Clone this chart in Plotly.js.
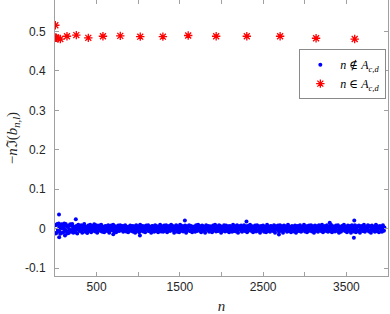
<!DOCTYPE html>
<html><head><meta charset="utf-8">
<script src="https://cdn.plot.ly/plotly-3.0.1.min.js"></script>
<style>html,body{margin:0;padding:0;background:#fff}#chart{width:390px;height:314px}</style>
</head><body><div id="chart"></div>
<script>
// Red stars: n in A_{c,d}
const redN = [4,9,16,36,64,144,256,400,576,784,1024,1296,1600,1936,2304,2704,3136,3600];
const redV = [0.516,0.485,0.484,0.482,0.481,0.488,0.491,0.484,0.488,0.489,0.487,0.487,0.490,0.488,0.488,0.488,0.483,0.481];

// Blue dots: n not in A_{c,d}, sampled every 12 (two interleaved sets)
const blueStartA = 3, blueStartB = 9, blueStep = 12;
const blueA = [
.009,-.011,.012,-.006,.004,-.013,.010,.001,-.009,.013,-.004,.008,-.012,.006,-.002,
.011,-.008,.012,-.010,.003,-.009,.007,-.012,.010,.001,-.006,.009,-.010,.005,.012,
-.008,.002,-.011,.008,-.003,.010,-.009,.006,-.001,.011,-.007,.009,-.010,.004,.008,
-.005,.010,-.008,.003,-.009,.007,.001,-.006,.009,-.010,.005,.008,-.004,.010,-.007,
.006,-.009,.002,.008,-.006,.009,-.003,.007,-.008,.004,.009,-.007,.005,-.009,.001,
.008,-.005,.007,-.008,.003,-.010,.009,-.002,.006,-.009,.010,-.004,.007,-.007,.002,
-.009,.008,-.001,.009,-.006,.005,-.010,.007,.002,-.008,.009,-.005,.006,-.009,.004,
.010,-.007,.003,-.008,.008,-.002,.009,-.009,.005,.007,-.006,.010,-.003,.006,-.010,
.004,.009,-.008,.002,-.009,.010,-.005,.007,-.007,.001,.008,-.010,.006,-.004,.009,
-.006,.007,-.009,.005,.003,-.008,.009,-.006,.010,-.002,.006,-.009,.008,-.005,.004,
-.010,.009,-.003,.007,-.008,.006,.001,-.009,.008,-.004,.010,-.007,.003,-.006,.009,
.007,-.010,.005,-.002,.009,-.007,.008,-.005,.004,-.009,.007,.002,-.008,.010,-.006,
.003,-.007,.009,-.010,.006,-.001,.008,-.008,.005,.009,-.006,.004,-.009,.007,-.003,
.010,-.005,.006,-.009,.002,.008,-.007,.009,-.004,.005,-.010,.007,-.002,.008,-.008,
.005,-.009,.010,-.006,.003,-.008,.007,.001,-.005,.009,-.010,.006,-.003,.008,-.007,
.009,-.004,.006,-.010,.008,-.002,.005,-.008,.010,-.006,.004,-.009,.007,.002,-.007,
.008,-.010,.003,.007,-.006,.009,-.008,.005,-.001,.010,-.007,.006,-.009,.004,.008,
-.005,.009,-.007,.002,-.010,.008,-.004,.006,-.008,.009,.001,-.006,.010,-.009,.005,
.007,-.003,.009,-.008,.004,-.006,.010,-.009,.006,.002,-.007,.008,-.005,.009,-.010,
.004,-.008,.007,-.002,.010,-.006,.005,-.009,.008,-.004,.006,-.010,.009,.003,-.007,
.009,-.009,.006,-.005,.008,-.010,.002,.007,-.006,.010,-.008,.004,-.003,.009,-.007,
.006,-.010,.008,-.004,.005,-.008,.010,-.006,.003,-.009,.007,.001,-.008,.009,-.005
];
const blueB = [
-.012,.010,-.003,.013,-.008,.002,.011,-.010,.006,-.001,.012,-.007,.004,-.011,.009,
-.004,.007,-.002,.005,-.006,.001,.004,-.003,.006,-.005,.002,-.004,.007,-.001,.003,
.005,-.004,.001,-.006,.003,-.002,.006,-.005,.002,.004,-.003,.005,-.006,.001,-.002,
.003,-.006,.005,-.001,.004,-.003,.006,-.004,.002,-.005,.003,.006,-.002,.004,-.006,
-.002,.004,-.005,.003,.001,-.004,.005,-.003,.006,-.001,.002,-.006,.004,-.003,.005,
.001,-.005,.003,.006,-.004,.002,-.006,.004,-.001,.005,-.003,.001,-.005,.006,-.002,
.004,-.001,.005,-.006,.002,.003,-.004,.006,-.002,.001,-.005,.004,-.003,.005,-.004,
-.003,.006,-.002,.004,-.005,.001,.003,-.006,.005,-.002,.004,-.001,.006,-.004,.002,
.002,-.003,.006,-.005,.004,-.001,.005,-.004,.001,.006,-.006,.003,-.002,.004,-.005,
-.006,.003,-.001,.005,-.003,.006,-.002,.001,-.004,.005,-.005,.002,.006,-.003,.001,
.005,-.002,.004,-.004,.001,-.006,.003,.005,-.003,.002,-.001,.006,-.005,.004,-.002,
-.001,.005,-.006,.002,.004,-.003,.001,-.005,.006,-.002,.003,-.004,.002,-.006,.005,
.006,-.004,.002,-.003,.005,.001,-.006,.003,-.002,.004,-.005,.006,-.001,.003,-.004,
-.004,.002,.005,-.006,.003,-.001,.004,-.005,.006,-.003,.001,.005,-.004,.002,-.006,
.003,-.005,.001,.004,-.002,.006,-.003,.002,-.006,.005,-.001,.003,.004,-.005,.002,
-.005,.004,-.003,.001,.006,-.004,.002,-.001,.005,-.006,.004,-.002,.003,.001,-.004,
.002,.006,-.005,.004,-.001,.003,-.006,.005,-.002,.001,.004,-.003,.006,-.005,.003,
-.002,.003,.006,-.004,.005,-.006,.001,.004,-.003,.006,-.002,.005,-.001,.002,-.005,
.004,-.006,.002,.005,-.003,.001,.006,-.002,.004,-.005,.003,-.004,.005,-.006,.001,
-.003,.005,-.004,.006,-.001,.002,-.005,.003,.001,-.004,.006,-.002,.004,-.003,.005,
.001,-.002,.004,-.005,.006,-.003,.002,.005,-.006,.003,-.004,.001,-.002,.006,-.004,
.005,-.003,.001,.004,-.006,.002,-.005,.006,-.001,.003,.002,-.006,.005,-.004,.003
];
// Blue outliers
const blueOutN = [48, 250, 50, 120, 1020, 1560, 2300, 2690, 3590, 3595, 700, 3300];
const blueOutV = [0.036, 0.024, -0.022, -0.017, -0.017, 0.021, 0.018, -0.015, -0.023, 0.021, -0.014, 0.015];

// Axis ticks
const xTickVals = [500,1500,2500,3500];
const xTickText = ['500','1500','2500','3500'];
const xMinorTickVals = [1000,2000,3000];
const yTickVals = [-0.1,0,0.1,0.2,0.3,0.4,0.5];
const yTickText = ['-0.1','0','0.1','0.2','0.3','0.4','0.5'];

const blueN = [], blueV = [];
blueA.forEach((v,i)=>{ blueN.push(blueStartA + blueStep*i); blueV.push(v); });
blueB.forEach((v,i)=>{ blueN.push(blueStartB + blueStep*i); blueV.push(v); });
blueOutN.forEach((n,i)=>{ blueN.push(n); blueV.push(blueOutV[i]); });

const traces = [
  {x: blueN, y: blueV, type:'scatter', mode:'markers', name:'<i>n</i> ∉ <i>A</i><sub><i>c,d</i></sub>',
   marker:{color:'#0000ff', size:4, line:{width:0}}},
  {x: redN, y: redV, type:'scatter', mode:'markers', name:'<i>n</i> ∈ <i>A</i><sub><i>c,d</i></sub>',
   marker:{symbol:'asterisk-open', color:'#ff0000', size:7, line:{color:'#ff0000', width:1.3}}}
];

const axCommon = {showgrid:false, zeroline:false, showline:true, linecolor:'#a0a0a0', linewidth:1,
  mirror:'ticks', ticks:'inside', ticklen:4, tickcolor:'#a0a0a0', tickwidth:1,
  tickfont:{family:'Liberation Sans, Arial, sans-serif', size:12, color:'#262626'}, automargin:false};

const layout = {
  width:390, height:314,
  margin:{l:55, r:1.5, t:0, b:38},
  paper_bgcolor:'#fff', plot_bgcolor:'#fff',
  showlegend:true,
  xaxis: Object.assign({}, axCommon, {range:[0,4000], tickmode:'array', tickvals:xTickVals, ticktext:xTickText,
    minor:{tickmode:'array', tickvals:xMinorTickVals, ticks:'inside', ticklen:4, tickcolor:'#a0a0a0', tickwidth:1, showgrid:false},
    title:{text:'<i>n</i>', font:{family:'Liberation Serif, DejaVu Serif, serif', size:15, color:'#262626'}, standoff:8}}),
  yaxis: Object.assign({}, axCommon, {range:[-0.12,0.58], tickmode:'array', tickvals:yTickVals, ticktext:yTickText,
    ticklabelstandoff:6,
    title:{text:'−<i>n</i>ℑ(<i>b</i><sub><i>n,l</i></sub>)', font:{family:'Liberation Serif, DejaVu Serif, serif', size:15, color:'#262626'}, standoff:3}}),
  legend:{x:0.995, xanchor:'right', y:0.822, yanchor:'top', bgcolor:'#fff', bordercolor:'#8a8a8a', borderwidth:1,
    font:{family:'Liberation Serif, DejaVu Serif, serif', size:12, color:'#000'}, tracegroupgap:0, itemwidth:30}
};

Plotly.newPlot('chart', traces, layout, {staticPlot:true, displayModeBar:false});
</script></body></html>
